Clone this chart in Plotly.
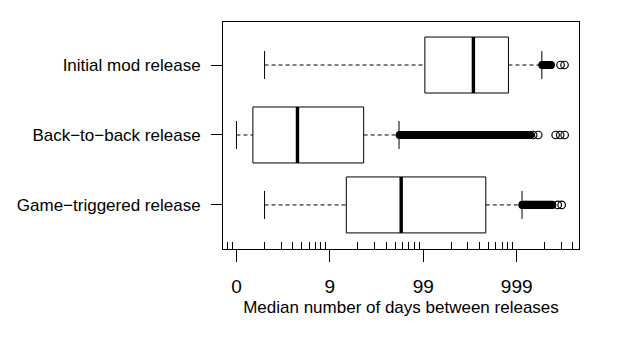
import numpy as np
import plotly.graph_objects as go

# groups from bottom to top
labels = ["Game−triggered release", "Back−to−back release", "Initial mod release"]

# box stats, days
lower = [1, 0, 1]
q1 = [14, 0.5, 103]
median = [57, 3.5, 343]
q3 = [466, 22, 815]
upper = [1140, 54, 1857]

# outliers that pile up into a solid band
dense_out = [
    [1150, 1190, 1230, 1270, 1310, 1360, 1410, 1460, 1510, 1560, 1620, 1680,
     1740, 1800, 1870, 1940, 2010, 2080, 2160, 2240, 2320, 2400],
    [55, 59, 63, 67, 71, 76, 81, 86, 92, 98, 104, 111, 118, 126, 134, 143, 152,
     162, 173, 184, 196, 209, 223, 238, 253, 270, 288, 307, 327, 348, 371, 395,
     421, 449, 478, 510, 543, 579, 617, 657, 700, 746, 795, 848, 903, 962, 1025,
     1093, 1165, 1240, 1320, 1400],
    [1880, 1920, 1960, 2000, 2050, 2100, 2150, 2200, 2260, 2320],
]
# the few separate circles on the right
tail_out = [
    [2750, 3030],
    [1500, 1700, 2610, 2920, 3260],
    [2950, 3250],
]

tick_vals = [0, 9, 99, 999]
tick_text = ["0", "9", "99", "999"]

font = "Liberation Sans, Arial, sans-serif"
ink = "black"
fig = go.Figure()


def seg(xs, ys, width=1, dash=None):
    fig.add_trace(go.Scatter(x=np.array(xs) + 1, y=ys, mode="lines",
                             line=dict(color=ink, width=width, dash=dash),
                             hoverinfo="skip", showlegend=False))


hw = 0.4   # half box height
sw = 0.2   # half staple height
for i in range(len(labels)):
    y = i + 1
    # whiskers
    seg([lower[i], q1[i]], [y, y], dash="4px,3px")
    seg([q3[i], upper[i]], [y, y], dash="4px,3px")
    seg([lower[i], lower[i]], [y - sw, y + sw])
    seg([upper[i], upper[i]], [y - sw, y + sw])
    # box
    seg([q1[i], q3[i], q3[i], q1[i], q1[i]], [y - hw, y - hw, y + hw, y + hw, y - hw])
    seg([median[i], median[i]], [y - hw, y + hw], width=3.4)
    # outliers
    d = np.array(dense_out[i]) + 1
    fig.add_trace(go.Scatter(x=d, y=[y] * len(d), mode="markers",
                             marker=dict(symbol="circle", size=7, color=ink,
                                         line=dict(color=ink, width=1.2)),
                             hoverinfo="skip", showlegend=False))
    t = np.array(tail_out[i]) + 1
    fig.add_trace(go.Scatter(x=t, y=[y] * len(t), mode="markers",
                             marker=dict(symbol="circle-open", size=7.5, color=ink,
                                         line=dict(color=ink, width=1.2)),
                             hoverinfo="skip", showlegend=False))

minor_vals = [m * 10 ** k for k in range(-1, 4) for m in range(2, 10)]
xr = [-0.144, 3.667]

# page body has an 8px margin, margins below account for it
fig.update_layout(
    width=623, height=339,
    margin=dict(l=215, r=52, t=14, b=98, autoexpand=False),
    paper_bgcolor="white", plot_bgcolor="white",
    font=dict(family=font, color=ink),
    xaxis=dict(
        type="log", range=xr, automargin=False,
        tickmode="array", tickvals=[v + 1 for v in tick_vals], ticktext=tick_text,
        ticks="outside", ticklen=12, tickwidth=1, tickcolor=ink,
        tickfont=dict(size=19), ticklabelstandoff=8,
        minor=dict(tickmode="array", tickvals=minor_vals, ticks="inside",
                   ticklen=7, tickwidth=1, tickcolor=ink, showgrid=False),
        showline=True, linecolor=ink, linewidth=1, mirror=True,
        showgrid=False, zeroline=False,
        title=dict(text="Median number of days between releases",
                   font=dict(size=17), standoff=5),
    ),
    xaxis2=dict(
        type="log", range=xr, overlaying="x", anchor="y", side="bottom",
        automargin=False,
        tickmode="array", tickvals=[v + 1 for v in tick_vals],
        ticks="inside", ticklen=11, tickwidth=1, tickcolor=ink,
        showticklabels=False, showline=False, showgrid=False, zeroline=False,
    ),
    yaxis=dict(
        range=[0.37, 3.615], automargin=False,
        tickmode="array", tickvals=[1, 2, 3], ticktext=labels,
        ticks="outside", ticklen=11, tickwidth=1, tickcolor=ink,
        tickfont=dict(size=17), ticklabelstandoff=7,
        showline=True, linecolor=ink, linewidth=1, mirror=True,
        showgrid=False, zeroline=False,
    ),
)

fig.write_html("out.html")
